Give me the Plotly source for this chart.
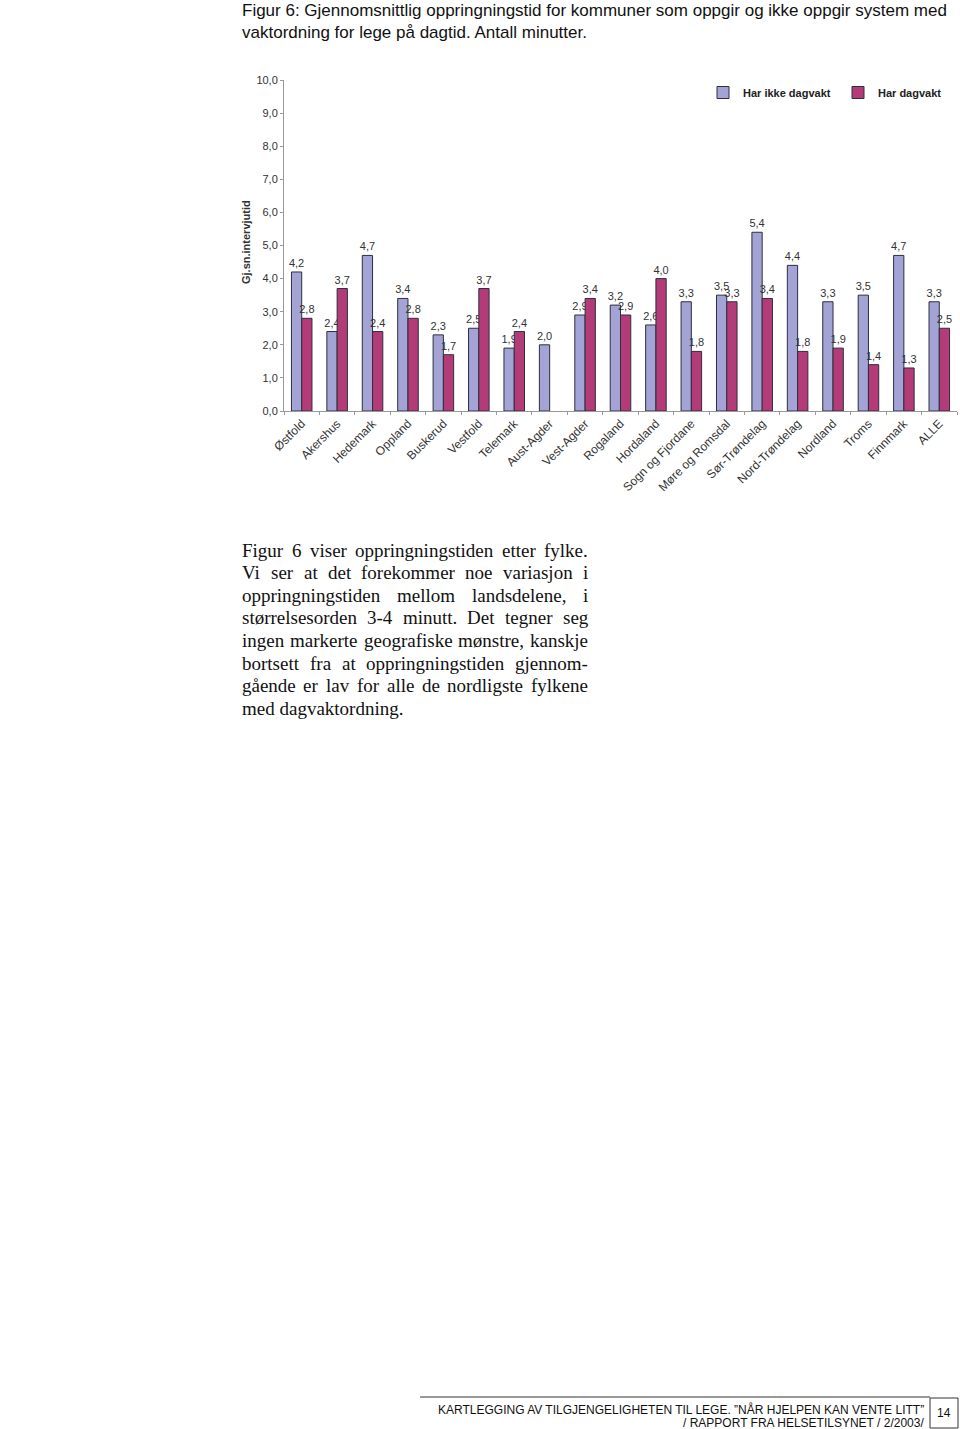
import plotly.graph_objects as go

categories = ["Østfold", "Akershus", "Hedemark", "Oppland", "Buskerud", "Vestfold", "Telemark",
              "Aust-Agder", "Vest-Agder", "Rogaland", "Hordaland", "Sogn og Fjordane",
              "Møre og Romsdal", "Sør-Trøndelag", "Nord-Trøndelag", "Nordland", "Troms",
              "Finnmark", "ALLE"]
har_ikke_dagvakt = [4.2, 2.4, 4.7, 3.4, 2.3, 2.5, 1.9, 2.0, 2.9, 3.2, 2.6, 3.3, 3.5, 5.4, 4.4, 3.3, 3.5, 4.7, 3.3]
har_dagvakt = [2.8, 3.7, 2.4, 2.8, 1.7, 3.7, 2.4, None, 3.4, 2.9, 4.0, 1.8, 3.3, 3.4, 1.8, 1.9, 1.4, 1.3, 2.5]
y_ticks = [0, 1, 2, 3, 4, 5, 6, 7, 8, 9, 10]

title_lines = ["Figur 6: Gjennomsnittlig oppringningstid for kommuner som oppgir og ikke oppgir system med",
               "vaktordning for lege på dagtid. Antall minutter."]
body_lines = ["Figur 6 viser oppringningstiden etter fylke.",
              "Vi ser at det forekommer noe variasjon i",
              "oppringningstiden mellom landsdelene, i",
              "størrelsesorden 3-4 minutt. Det tegner seg",
              "ingen markerte geografiske mønstre, kanskje",
              "bortsett fra at oppringningstiden gjennom-",
              "gående er lav for alle de nordligste fylkene",
              "med dagvaktordning."]
footer_lines = ["KARTLEGGING AV TILGJENGELIGHETEN TIL LEGE. \u201dNÅR HJELPEN KAN VENTE LITT\u201d",
                "/ RAPPORT FRA HELSETILSYNET / 2/2003/"]
page_number = "14"

W, H = 960, 1429
L, R, T, B = 284, 957, 80, 411
PW, PH = R - L, B - T

def px(x):
    return (x - L) / PW

def py(y):
    return (B - y) / PH

SANS = "Liberation Sans, Arial, sans-serif"
SERIF = "Liberation Serif, Times New Roman, serif"

# Times/Liberation Serif advance widths (per 1000 em) for justifying the body text
_TW = {"a": 444, "b": 500, "c": 444, "d": 500, "e": 444, "f": 333, "g": 500, "h": 500, "i": 278,
       "j": 278, "k": 500, "l": 278, "m": 778, "n": 500, "o": 500, "p": 500, "q": 500, "r": 333,
       "s": 389, "t": 278, "u": 500, "v": 500, "w": 722, "x": 500, "y": 500, "z": 444, "å": 444,
       "ø": 500, "æ": 667, "-": 333, ".": 250, ",": 250, "F": 556, "V": 722, "D": 722}

def word_width(w, size):
    return sum(_TW.get(c, 500) for c in w) * size / 1000.0

fig = go.Figure()
fig.add_trace(go.Bar(x=categories, y=har_ikke_dagvakt, name="Har ikke dagvakt",
                     marker=dict(color="#a3a3d6", line=dict(color="#2e2e3e", width=1)),
                     texttemplate="%{y:.1f}", textposition="outside", constraintext="none",
                     textfont=dict(size=11, color="#333333", family=SANS), cliponaxis=False))
fig.add_trace(go.Bar(x=categories, y=har_dagvakt, name="Har dagvakt",
                     marker=dict(color="#b33c78", line=dict(color="#2e2e3e", width=1)),
                     texttemplate="%{y:.1f}", textposition="outside", constraintext="none",
                     textfont=dict(size=11, color="#333333", family=SANS), cliponaxis=False))

annotations = []
for i, t in enumerate(title_lines):
    annotations.append(dict(text=t, x=px(240), y=py(10 + 22 * i), xref="paper", yref="paper",
                            xanchor="left", yanchor="middle", showarrow=False,
                            font=dict(family=SANS, size=17, color="#111111")))

BODY_SIZE = 19
BODY_X0, BODY_X1 = 240, 586
for i, t in enumerate(body_lines):
    yy = py(550 + 22.6 * i)
    words = t.split(" ")
    if i == len(body_lines) - 1 or len(words) < 2:
        annotations.append(dict(text=t, x=px(BODY_X0), y=yy, xref="paper", yref="paper",
                                xanchor="left", yanchor="middle", showarrow=False,
                                font=dict(family=SERIF, size=BODY_SIZE, color="#111111")))
        continue
    widths = [word_width(w, BODY_SIZE) for w in words]
    gap = (BODY_X1 - BODY_X0 - sum(widths)) / (len(words) - 1)
    xcur = BODY_X0
    for w, ww in zip(words, widths):
        annotations.append(dict(text=w, x=px(xcur), y=yy, xref="paper", yref="paper",
                                xanchor="left", yanchor="middle", showarrow=False,
                                font=dict(family=SERIF, size=BODY_SIZE, color="#111111")))
        xcur += ww + gap

for i, t in enumerate(footer_lines):
    annotations.append(dict(text=t, x=px(926), y=py(1409 + 14 * i), xref="paper", yref="paper",
                            xanchor="right", yanchor="middle", showarrow=False,
                            font=dict(family=SANS, size=12, color="#111111")))
annotations.append(dict(text=page_number, x=px(944), y=py(1413), xref="paper", yref="paper",
                        xanchor="center", yanchor="middle", showarrow=False,
                        font=dict(family=SANS, size=12, color="#111111")))
annotations.append(dict(text="<b>Gj.sn.intervjutid</b>", x=px(246), y=py(242), xref="paper", yref="paper",
                        xanchor="center", yanchor="middle", showarrow=False, textangle=-90,
                        font=dict(family=SANS, size=11, color="#333333")))

shapes = [
    dict(type="line", xref="paper", yref="paper", x0=px(420), x1=px(930), y0=py(1397), y1=py(1397),
         line=dict(color="#333333", width=1)),
    dict(type="rect", xref="paper", yref="paper", x0=px(930), x1=px(958), y0=py(1398), y1=py(1428),
         line=dict(color="#333333", width=1)),
]

fig.update_layout(
    width=W, height=H,
    margin=dict(l=L, r=W - R, t=T, b=H - B, pad=0, autoexpand=False),
    paper_bgcolor="white", plot_bgcolor="white",
    separators=", ",
    barmode="group", bargap=0.42, bargroupgap=0,
    showlegend=True,
    legend=dict(orientation="h", x=px(703), y=py(78), xanchor="left", yanchor="top",
                font=dict(family=SANS, size=11, color="#222222", weight="bold"),
                entrywidth=90, entrywidthmode="pixels", bgcolor="rgba(0,0,0,0)"),
    annotations=annotations,
    shapes=shapes,
    font=dict(family=SANS),
)
fig.update_xaxes(showline=True, linecolor="#999999", linewidth=1, tickangle=-45,
                 ticks="outside", tickson="boundaries", ticklen=3, tickcolor="#999999",
                 tickfont=dict(family=SANS, size=12, color="#333333"), showgrid=False)
fig.update_yaxes(range=[0, 10], tickvals=y_ticks, tickformat=".1f", showline=True,
                 linecolor="#999999", linewidth=1, ticks="outside", ticklen=3, tickcolor="#999999",
                 tickfont=dict(family=SANS, size=11, color="#333333"), showgrid=False,
                 zeroline=False)

fig.write_html("out.html")
